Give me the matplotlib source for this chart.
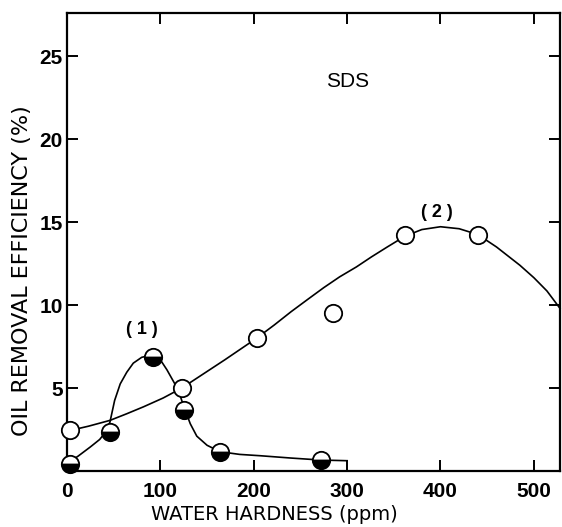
import matplotlib
matplotlib.use('Agg')
import matplotlib.pyplot as plt

# measured points
hard_1 = [3, 46, 92, 125, 164, 272]
eff_1 = [0.4, 2.37, 6.85, 3.65, 1.15, 0.65]

hard_2 = [3, 123, 203, 285, 362, 440]
eff_2 = [2.45, 5.0, 8.0, 9.5, 14.25, 14.25]

# smooth curves
curve1_x = [0, 12, 25, 35, 42, 46, 51, 57, 64, 71, 80, 91, 100, 107, 113, 119,
            125, 132, 139, 150, 164, 185, 207, 240, 272, 300]
curve1_y = [0.45, 0.9, 1.45, 1.9, 2.4, 2.95, 4.25, 5.25, 5.95, 6.5, 6.85, 7.0,
            6.7, 6.1, 5.5, 4.9, 3.9, 2.85, 2.1, 1.55, 1.16, 1.0, 0.92, 0.78,
            0.66, 0.62]

curve2_x = [0, 23, 46, 64, 82, 103, 123, 146, 169, 186, 203, 222, 240, 258,
            275, 292, 310, 326, 343, 362, 380, 400, 420, 440, 460, 485, 500,
            514, 528]
curve2_y = [2.4, 2.7, 3.05, 3.45, 3.87, 4.4, 5.0, 5.85, 6.7, 7.35, 8.0, 8.8,
            9.6, 10.35, 11.05, 11.7, 12.3, 12.9, 13.5, 14.15, 14.55, 14.72,
            14.6, 14.25, 13.5, 12.4, 11.65, 10.85, 9.8]

xticks = [0, 100, 200, 300, 400, 500]
yticks = [5, 10, 15, 20, 25]

plt.rcParams['font.family'] = ['Liberation Sans', 'DejaVu Sans']

fig = plt.figure(figsize=(5.62, 5.27), dpi=100)
ax = fig.add_axes([67 / 562, 56 / 527, 493 / 562, 458 / 527])

ax.plot(curve1_x, curve1_y, color='black', lw=1.2, zorder=2)
ax.plot(curve2_x, curve2_y, color='black', lw=1.2, zorder=2, clip_on=False)

ax.plot(hard_2, eff_2, 'o', ms=12.5, mfc='white', mec='black', mew=1.3,
        ls='none', zorder=3, clip_on=False)
ax.plot(hard_1, eff_1, 'o', ms=12.5, fillstyle='bottom', mfc='black',
        mfcalt='white', mec='black', mew=1.3, ls='none', zorder=3, clip_on=False)

ax.set_xlim(0, 528)
ax.set_ylim(0, 27.6)
ax.set_xticks(xticks)
ax.set_yticks(yticks)
ax.tick_params(direction='in', top=True, right=True, width=1.4, length=8, pad=3)
ax.tick_params(axis='x', pad=8)
for lab in ax.get_xticklabels() + ax.get_yticklabels():
    lab.set_fontfamily(['Liberation Sans Narrow', 'Liberation Sans'])
    lab.set_fontweight('bold')
    lab.set_fontsize(15)
for s in ax.spines.values():
    s.set_linewidth(1.6)

ax.set_xlabel('WATER HARDNESS (ppm)', fontsize=14, family='DejaVu Sans')
ax.xaxis.set_label_coords(0.42, -0.074)
ax.set_ylabel('OIL REMOVAL EFFICIENCY (%)', fontsize=16, family='DejaVu Sans')
ax.yaxis.set_label_coords(-0.072, 0.437)

ax.text(301, 23.5, 'SDS', fontsize=15, ha='center', va='center')
ax.text(80, 8.5, '( 1 )', fontsize=13, fontweight='bold', ha='center', va='center')
ax.text(396, 15.6, '( 2 )', fontsize=13, fontweight='bold', ha='center', va='center')

fig.savefig('out.png', dpi=100)
